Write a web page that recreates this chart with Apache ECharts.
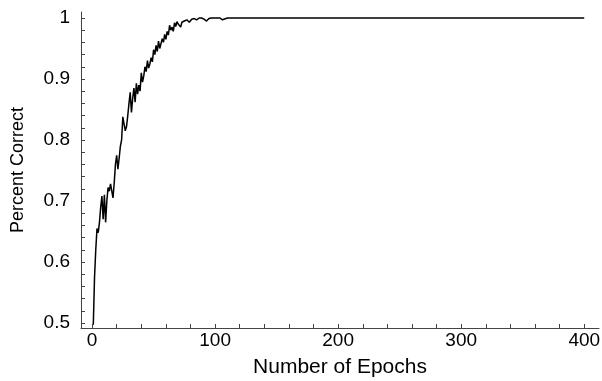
<!DOCTYPE html>
<html>
<head>
<meta charset="utf-8">
<script src="https://cdn.jsdelivr.net/npm/echarts@6/dist/echarts.min.js"></script>
<style>
  html, body { margin: 0; padding: 0; background: #fff; }
  #chart { width: 602px; height: 381px; }
</style>
</head>
<body>
<div id="chart"></div>
<script>
// epochs and accuracy
const epochs = [
  1, 2, 3, 4, 5, 6, 7, 8, 9, 10, 11, 12, 13, 14, 15, 16, 17, 18, 19, 20,
  21, 22, 23, 24, 25, 26, 27, 28, 29, 30, 31, 32, 33, 34, 35, 36, 37, 38, 39, 40,
  41, 42, 43, 44, 45, 46, 47, 48, 49, 50, 51, 52, 53, 54, 55, 56, 57, 58, 59, 60,
  61, 62, 63, 64, 65, 66, 67, 68, 69, 70, 71, 72, 73, 74, 75, 76, 77, 78, 79, 80,
  81, 82, 83, 84, 85, 86, 87, 88, 89, 90, 91, 92, 93, 94, 95, 96, 97, 98, 99, 100,
  104, 106, 107, 110, 120, 130, 140, 150, 200, 250, 300, 350, 400
];
const percentCorrect = [
  0.497, 0.575, 0.62, 0.655, 0.648, 0.665, 0.69, 0.708, 0.67, 0.71,
  0.665, 0.70, 0.722, 0.716, 0.728, 0.73, 0.705, 0.73, 0.76, 0.775,
  0.752, 0.77, 0.79, 0.80, 0.838, 0.826, 0.815, 0.822, 0.84, 0.86,
  0.878, 0.845, 0.868, 0.885, 0.862, 0.893, 0.875, 0.89, 0.88, 0.91,
  0.895, 0.905, 0.92, 0.912, 0.93, 0.918, 0.925, 0.935, 0.928, 0.948,
  0.94, 0.955, 0.945, 0.962, 0.95, 0.958, 0.966, 0.96, 0.973, 0.965,
  0.978, 0.972, 0.988, 0.98, 0.985, 0.978, 0.992, 0.986, 0.994, 0.99,
  0.992, 0.985, 0.993, 0.99, 0.995, 0.992, 0.997, 0.996, 0.993, 0.995,
  0.998, 0.997, 0.999, 0.998, 0.997, 0.999, 1, 0.999, 1, 1,
  0.998, 0.997, 0.995, 0.998, 0.999, 1, 1, 1, 1, 1,
  1, 0.997, 1, 1, 1, 1, 1, 1, 1, 1, 1, 1, 1
];
const xTickLabels = [0, 100, 200, 300, 400];
const yTickLabels = [0.5, 0.6, 0.7, 0.8, 0.9, 1];

// minor tick positions (every 20 epochs, every 0.02)
const xMinor = [];
for (let v = 0; v <= 400; v += 20) xMinor.push(v);
const yMinor = [];
for (let i = 0; i <= 25; i++) yMinor.push(+(0.5 + i * 0.02).toFixed(2));

const font = "'Liberation Sans', Arial, sans-serif";
const axisColor = "#444";

const chart = echarts.init(document.getElementById("chart"));
chart.setOption({
  animation: false,
  grid: { left: 81, right: 3, top: 12, bottom: 53, outerBoundsMode: "none", containLabel: false },
  xAxis: {
    type: "value",
    min: -9,
    max: 412,
    name: "Number of Epochs",
    nameLocation: "middle",
    nameGap: 29,
    nameTextStyle: { color: "#000", fontSize: 21, fontFamily: font },
    axisLine: { show: true, onZero: false, lineStyle: { color: axisColor, width: 1 } },
    axisTick: { show: true, inside: true, length: 4, customValues: xMinor, lineStyle: { color: axisColor } },
    axisLabel: { customValues: xTickLabels, color: "#000", fontSize: 19, fontFamily: font, margin: 3 },
    splitLine: { show: false }
  },
  yAxis: {
    type: "value",
    min: 0.4918,
    max: 1.0098,
    name: "Percent Correct",
    nameLocation: "middle",
    nameGap: 54,
    nameTextStyle: { color: "#000", fontSize: 18, fontFamily: font },
    axisLine: { show: true, onZero: false, lineStyle: { color: axisColor, width: 1 } },
    axisTick: { show: true, inside: true, length: 4, customValues: yMinor, lineStyle: { color: axisColor } },
    axisLabel: { customValues: yTickLabels, color: "#000", fontSize: 19, fontFamily: font, margin: 11 },
    splitLine: { show: false }
  },
  series: [
    {
      type: "line",
      data: epochs.map((e, i) => [e, percentCorrect[i]]),
      showSymbol: false,
      lineStyle: { color: "#000", width: 1.5 }
    }
  ]
});
</script>
</body>
</html>
